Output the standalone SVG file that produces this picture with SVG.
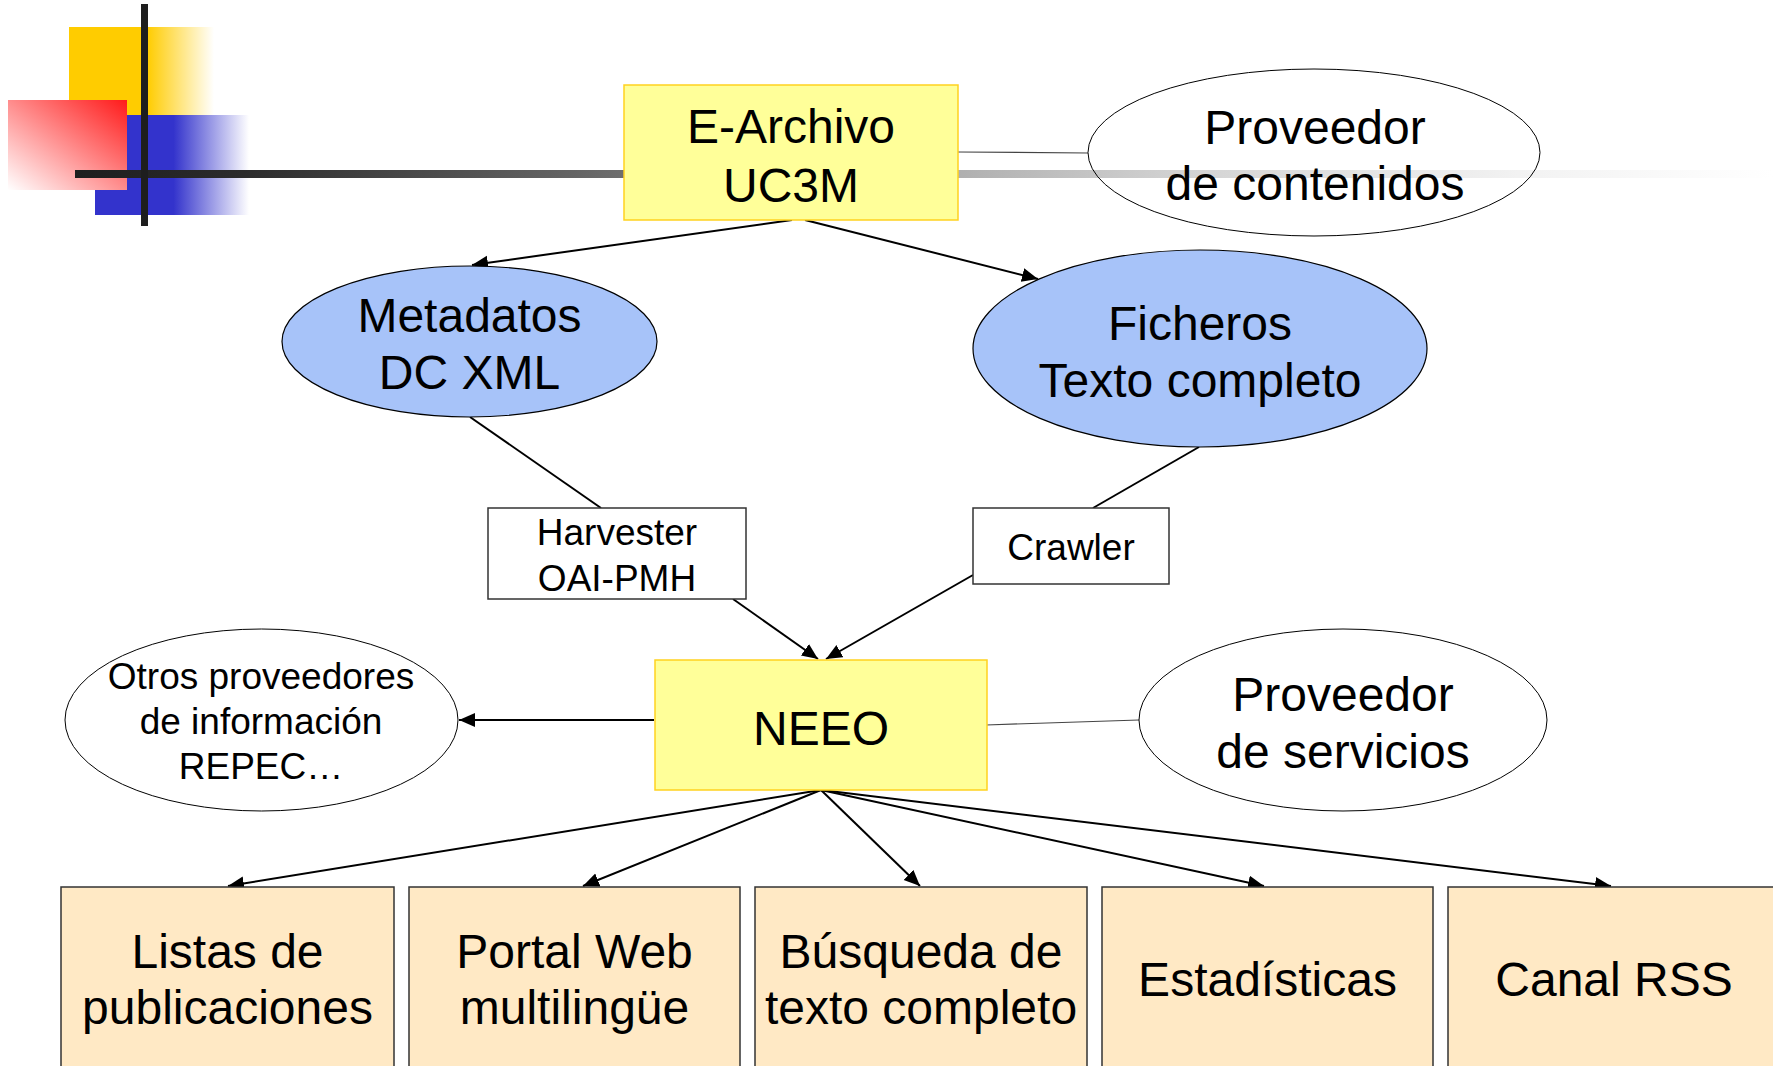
<svg xmlns="http://www.w3.org/2000/svg" width="1773" height="1066" viewBox="0 0 1773 1066">
<style>
  .t { font-family: "Liberation Sans", Arial, sans-serif; fill: #000; text-anchor: middle; }
  .big { font-size: 48px; }
  .small { font-size: 37px; }
  .yel { fill: #FFFF99; stroke: #FFD21F; stroke-width: 1.5; }
  .blue { fill: #A7C3F9; stroke: #000; stroke-width: 1.2; }
  .wellipse { fill: none; stroke: #000; stroke-width: 1; }
  .wbox { fill: #FFFFFF; stroke: #333; stroke-width: 1.5; }
  .pbox { fill: #FFE9C5; stroke: #333; stroke-width: 1.5; }
  .arrow { stroke: #000; stroke-width: 2; fill: none; marker-end: url(#ah); }
  .line { stroke: #000; stroke-width: 2; fill: none; }
  .thin { stroke: #444; stroke-width: 1.2; fill: none; }
</style>
<defs>
  <marker id="ah" markerUnits="userSpaceOnUse" markerWidth="18" markerHeight="16" refX="16" refY="7" orient="auto">
    <path d="M0,0 L16,7 L0,14 z" fill="#000"/>
  </marker>
  <linearGradient id="gYel" gradientUnits="userSpaceOnUse" x1="69" y1="0" x2="214" y2="0">
    <stop offset="0" stop-color="#FFCC00"/>
    <stop offset="0.54" stop-color="#FFCC00"/>
    <stop offset="1" stop-color="#FFCC00" stop-opacity="0"/>
  </linearGradient>
  <linearGradient id="gBlue" gradientUnits="userSpaceOnUse" x1="95" y1="0" x2="249" y2="0">
    <stop offset="0" stop-color="#3333CC"/>
    <stop offset="0.51" stop-color="#3333CC"/>
    <stop offset="1" stop-color="#3333CC" stop-opacity="0"/>
  </linearGradient>
  <linearGradient id="gRed" x1="1" y1="0" x2="0" y2="1">
    <stop offset="0" stop-color="#FF1A1A"/>
    <stop offset="1" stop-color="#FFFFFF"/>
  </linearGradient>
  <linearGradient id="gBar" gradientUnits="userSpaceOnUse" x1="75" y1="0" x2="1773" y2="0">
    <stop offset="0" stop-color="#1E1E1E"/>
    <stop offset="0.1" stop-color="#2C2C2C"/>
    <stop offset="0.3" stop-color="#666666"/>
    <stop offset="0.5" stop-color="#AAAAAA"/>
    <stop offset="0.65" stop-color="#D2D2D2"/>
    <stop offset="0.85" stop-color="#F2F2F2"/>
    <stop offset="1" stop-color="#FFFFFF"/>
  </linearGradient>
</defs>

<g id="decoration">
  <rect x="69" y="27" width="145" height="88" fill="url(#gYel)"/>
  <rect x="95" y="115" width="154" height="100" fill="url(#gBlue)"/>
  <rect x="8" y="100" width="119" height="90" fill="url(#gRed)"/>
  <rect x="75" y="170" width="1698" height="8" fill="url(#gBar)"/>
  <rect x="141" y="4" width="7" height="222" fill="#1E1E1E"/>
</g>

<g id="connectors">
  <line class="arrow" x1="792" y1="220" x2="472" y2="265"/>
  <line class="arrow" x1="805" y1="220" x2="1038" y2="279"/>
  <line class="thin" x1="958" y1="152" x2="1088" y2="153"/>
  <line class="line" x1="470" y1="417" x2="601" y2="508"/>
  <line class="line" x1="1199" y1="447" x2="1093" y2="508"/>
  <line class="arrow" x1="733" y1="599" x2="818" y2="659"/>
  <line class="arrow" x1="973" y1="575" x2="826" y2="659"/>
  <line class="arrow" x1="654" y1="720" x2="459" y2="720"/>
  <line class="thin" x1="986" y1="725" x2="1139" y2="720"/>
  <line class="arrow" x1="821" y1="790" x2="228" y2="886"/>
  <line class="arrow" x1="821" y1="790" x2="583" y2="886"/>
  <line class="arrow" x1="821" y1="790" x2="920" y2="886"/>
  <line class="arrow" x1="821" y1="790" x2="1264" y2="886"/>
  <line class="arrow" x1="821" y1="790" x2="1611" y2="886"/>
</g>

<g id="earchivo">
  <rect class="yel" x="624" y="85" width="334" height="135"/>
  <text class="t big" x="791" y="143">E-Archivo</text>
  <text class="t big" x="791" y="202">UC3M</text>
</g>

<g id="proveedor-contenidos">
  <ellipse class="wellipse" cx="1314" cy="152.5" rx="226" ry="83.5"/>
  <text class="t big" x="1315" y="144">Proveedor</text>
  <text class="t big" x="1315" y="200">de contenidos</text>
</g>

<g id="metadatos">
  <ellipse class="blue" cx="469.5" cy="341.5" rx="187.5" ry="75.5"/>
  <text class="t big" x="469.5" y="332">Metadatos</text>
  <text class="t big" x="469.5" y="389">DC XML</text>
</g>

<g id="ficheros">
  <ellipse class="blue" cx="1200" cy="348.5" rx="227" ry="98.5"/>
  <text class="t big" x="1200" y="340">Ficheros</text>
  <text class="t big" x="1200" y="397">Texto completo</text>
</g>

<g id="harvester">
  <rect class="wbox" x="488" y="508" width="258" height="91"/>
  <text class="t small" x="617" y="545">Harvester</text>
  <text class="t small" x="617" y="591">OAI-PMH</text>
</g>

<g id="crawler">
  <rect class="wbox" x="973" y="508" width="196" height="76"/>
  <text class="t small" x="1071" y="560">Crawler</text>
</g>

<g id="neeo">
  <rect class="yel" x="655" y="660" width="332" height="130"/>
  <text class="t big" x="821" y="745">NEEO</text>
</g>

<g id="otros">
  <ellipse class="wellipse" cx="261.5" cy="720" rx="196.5" ry="91"/>
  <text class="t small" x="261" y="689">Otros proveedores</text>
  <text class="t small" x="261" y="734">de información</text>
  <text class="t small" x="261" y="779">REPEC…</text>
</g>

<g id="proveedor-servicios">
  <ellipse class="wellipse" cx="1343" cy="720" rx="204" ry="91"/>
  <text class="t big" x="1343" y="711">Proveedor</text>
  <text class="t big" x="1343" y="768">de servicios</text>
</g>

<g id="listas">
  <rect class="pbox" x="61" y="887" width="333" height="190"/>
  <text class="t big" x="227.5" y="968">Listas de</text>
  <text class="t big" x="227.5" y="1024">publicaciones</text>
</g>

<g id="portal">
  <rect class="pbox" x="409" y="887" width="331" height="190"/>
  <text class="t big" x="574.5" y="968">Portal Web</text>
  <text class="t big" x="574.5" y="1024">multilingüe</text>
</g>

<g id="busqueda">
  <rect class="pbox" x="755" y="887" width="332" height="190"/>
  <text class="t big" x="921" y="968">Búsqueda de</text>
  <text class="t big" x="921" y="1024">texto completo</text>
</g>

<g id="estadisticas">
  <rect class="pbox" x="1102" y="887" width="331" height="190"/>
  <text class="t big" x="1267.5" y="996">Estadísticas</text>
</g>

<g id="rss">
  <rect class="pbox" x="1448" y="887" width="333" height="190"/>
  <text class="t big" x="1614" y="996">Canal RSS</text>
</g>
</svg>
